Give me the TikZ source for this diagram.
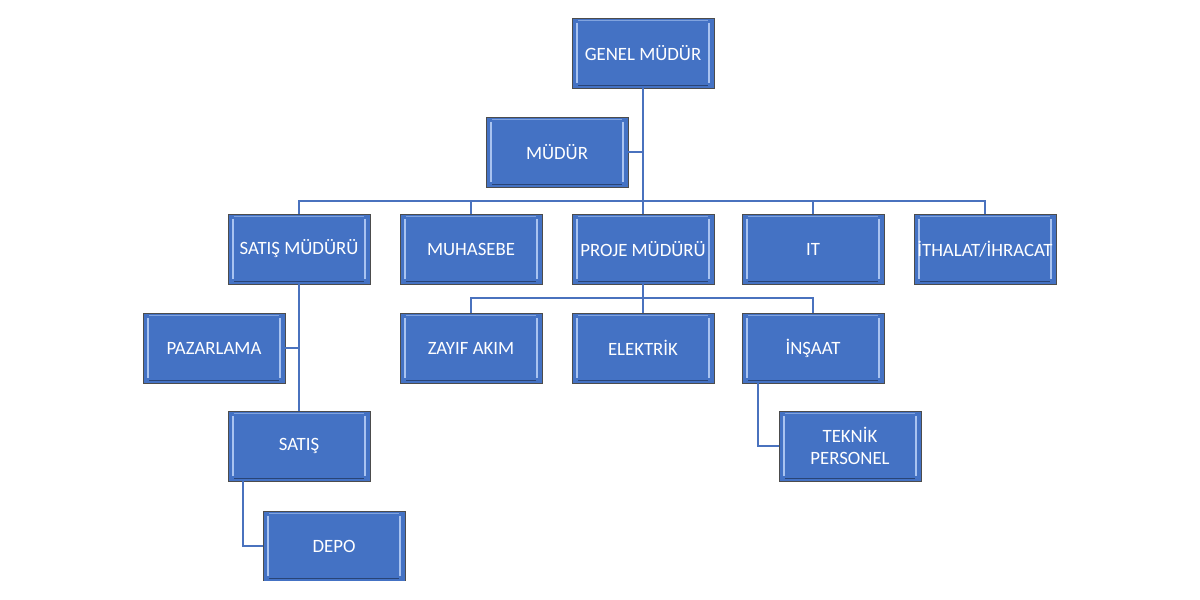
\documentclass[tikz,border=0pt]{standalone}
\usepackage{fontspec}
\setmainfont{Carlito}
\definecolor{boxblue}{HTML}{4472C4}
\definecolor{linkblue}{HTML}{4A72BE}
\definecolor{bevel}{HTML}{A9C3F0}
\begin{document}
\begin{tikzpicture}[x=1bp,y=-1bp,
  orgbox/.style={draw=black!70, line width=0.9bp, fill=boxblue, text=white,
    minimum width=142bp, minimum height=70bp, inner sep=0pt, align=center,
    font=\fontsize{18.8bp}{22bp}\selectfont,
    path picture={
      \draw[bevel, line width=2bp]
        ([xshift=5bp,yshift=-5bp]path picture bounding box.north west) --
        ([xshift=5bp,yshift=5bp]path picture bounding box.south west);
      \draw[bevel, line width=2bp]
        ([xshift=-5bp,yshift=-5bp]path picture bounding box.north east) --
        ([xshift=-5bp,yshift=5bp]path picture bounding box.south east);
      \draw[bevel!60!boxblue, line width=1bp]
        ([xshift=6bp,yshift=-2.5bp]path picture bounding box.north west) --
        ([xshift=-6bp,yshift=-2.5bp]path picture bounding box.north east);
      \draw[black!40!boxblue, line width=1.2bp]
        ([xshift=6bp,yshift=2.5bp]path picture bounding box.south west) --
        ([xshift=-6bp,yshift=2.5bp]path picture bounding box.south east);
    }},
  link/.style={draw=linkblue, line width=1.3bp}]
\useasboundingbox (0,0) rectangle (1200,600);
\begin{scope}
\clip (0,0) rectangle (1200,580);
% nodes
\node[orgbox] (gm) at (643,53) {GENEL MÜDÜR};
\node[orgbox] (md) at (557,152) {MÜDÜR};
\node[orgbox] (sm) at (299,249) {SATIŞ MÜDÜRÜ};
\node[orgbox] (mh) at (471,249) {MUHASEBE};
\node[orgbox] (pm) at (643,249) {PROJE MÜDÜRÜ};
\node[orgbox] (it) at (813,249) {IT};
\node[orgbox] (ih) at (985,249) {İTHALAT/İHRACAT};
\node[orgbox] (pz) at (214,348) {PAZARLAMA};
\node[orgbox] (za) at (471,348) {ZAYIF AKIM};
\node[orgbox] (el) at (643,348) {ELEKTRİK};
\node[orgbox] (in) at (813,348) {İNŞAAT};
\node[orgbox] (st) at (299,446) {SATIŞ};
\node[orgbox] (tp) at (850,446) {TEKNİK\\PERSONEL};
\node[orgbox] (dp) at (334,546) {DEPO};
\end{scope}
% connectors
\coordinate (bus1) at (643,201);
\coordinate (bus2) at (643,298);
\draw[link] (gm.south) -- (bus1);
\draw[link] (md.east) -- (md.east -| gm.south);
\draw[link] (sm.north) |- (bus1) -| (ih.north);
\draw[link] (mh.north) -- (mh.north |- bus1);
\draw[link] (pm.north) -- (bus1);
\draw[link] (it.north) -- (it.north |- bus1);
\draw[link] (pm.south) -- (bus2);
\draw[link] (za.north) |- (bus2) -| (in.north);
\draw[link] (el.north) -- (bus2);
\draw[link] (sm.south) -- (st.north);
\draw[link] (pz.east) -- (pz.east -| sm.south);
\coordinate (stb) at ([xshift=-56bp]st.south);
\draw[link] (stb) |- (dp.west);
\coordinate (inb) at ([xshift=-55bp]in.south);
\draw[link] (inb) |- (tp.west);
\end{tikzpicture}
\end{document}
